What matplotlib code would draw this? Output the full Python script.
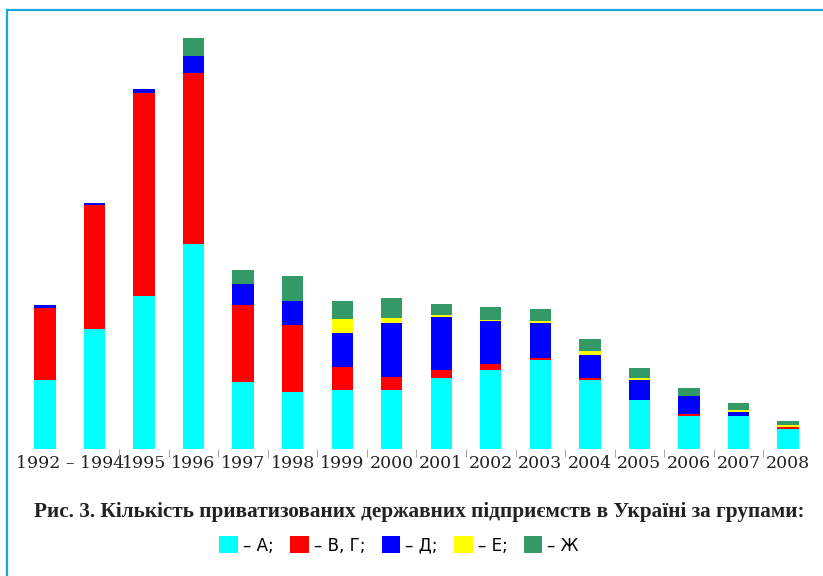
import numpy as np
import matplotlib
matplotlib.use("Agg")
import matplotlib.pyplot as plt
from matplotlib.patches import Patch
from matplotlib.lines import Line2D

# periods (first two bars share the label "1992 - 1994")
years = ["1992-1993", "1994", "1995", "1996", "1997", "1998", "1999", "2000",
         "2001", "2002", "2003", "2004", "2005", "2006", "2007", "2008"]
tick_labels = ["1992 – 1994", "1995", "1996", "1997", "1998", "1999", "2000",
               "2001", "2002", "2003", "2004", "2005", "2006", "2007", "2008"]

# group values (relative units)
grp_A  = [69, 120, 153, 205, 67, 57, 59, 59, 71, 79, 89, 69, 49, 33, 33, 20]
grp_BG = [72, 124, 203, 171, 77, 67, 23, 13, 8, 6, 2, 2, 0, 2, 0, 2]
grp_D  = [3, 2, 4, 17, 21, 24, 34, 54, 53, 43, 35, 23, 20, 18, 4, 0]
grp_E  = [0, 0, 0, 0, 0, 0, 14, 5, 2, 0.5, 2, 4, 2, 0, 2, 2]
grp_Zh = [0, 0, 0, 18, 14, 25, 18, 20, 11, 13, 12, 12, 10, 8, 7, 4]

series = [grp_A, grp_BG, grp_D, grp_E, grp_Zh]
colors = ["#00FFFF", "#FF0000", "#0000FF", "#FFFF00", "#339966"]
legend_labels = ["– А;", "– В, Г;", "– Д;", "– Е;", "– Ж"]

fig = plt.figure(figsize=(8.23, 5.76), dpi=100)
ax = fig.add_axes([0.0245, 0.2205, 0.9631, 0.7448])

x = np.arange(len(years))
bottom = np.zeros(len(years))
for vals, c in zip(series, colors):
    vals = np.array(vals, dtype=float)
    ax.bar(x, vals, width=0.43, bottom=bottom, color=c, linewidth=0)
    bottom += vals

ax.set_xlim(-0.5, len(years) - 0.5)
ax.set_ylim(0, 429)
for s in ax.spines.values():
    s.set_visible(False)
ax.set_yticks([])

# labels: first spans two bars
label_pos = [0.5] + list(x[2:])
ax.set_xticks(label_pos)
ax.set_xticklabels(tick_labels, family="DejaVu Serif", fontsize=12.5, color="#222222")
ax.tick_params(axis="x", which="major", length=0, pad=4.5)
ax.set_xticks(np.arange(1.5, len(years) - 1), minor=True)
ax.tick_params(axis="x", which="minor", length=6, width=0.6, color="#999999")

fig.text(0.509, 0.111,
         "Рис. 3. Кількість приватизованих державних підприємств в Україні за групами:",
         ha="center", va="center", family="Liberation Serif", fontweight="bold",
         fontsize=15.3, color="#222222")

handles = [Patch(facecolor=c, edgecolor="none") for c in colors]
fig.legend(handles, legend_labels, loc="center", bbox_to_anchor=(0.485, 0.053),
           ncol=5, frameon=False, handlelength=1.1, handleheight=1.2,
           handletextpad=0.3, columnspacing=1.0,
           prop={"family": "DejaVu Sans", "size": 12})

# blue frame lines (top and left)
fig.add_artist(Line2D([0.0091, 1.0], [0.9835, 0.9835], transform=fig.transFigure,
                      color="#1aa7dc", lw=1.6))
fig.add_artist(Line2D([0.0091, 0.0091], [0.0, 0.9835], transform=fig.transFigure,
                      color="#1aa7dc", lw=1.6))

fig.savefig("out.png", dpi=100)
